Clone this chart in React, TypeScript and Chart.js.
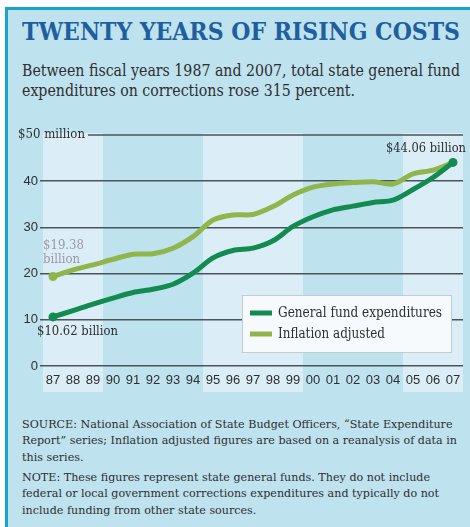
import React, { useEffect, useRef } from 'react';
import { Chart, registerables } from 'chart.js';

Chart.register(...registerables);

// ---------- data ----------
const years = ['87', '88', '89', '90', '91', '92', '93', '94', '95', '96', '97', '98', '99', '00', '01', '02', '03', '04', '05', '06', '07'];
const generalFund = [10.62, 12.0, 13.4, 14.7, 15.9, 16.6, 17.7, 20.1, 23.4, 25.0, 25.5, 27.1, 30.2, 32.3, 33.8, 34.6, 35.4, 35.9, 38.2, 40.8, 44.06];
const inflationAdjusted = [19.38, 20.8, 21.9, 23.1, 24.2, 24.3, 25.5, 28.0, 31.6, 32.7, 32.8, 34.5, 37.0, 38.7, 39.4, 39.7, 39.9, 39.4, 41.6, 42.4, 44.06];
const seriesLabels = ['General fund expenditures', 'Inflation adjusted'];
const yTickValues = [0, 10, 20, 30, 40, 50];
const topTickLabel = '$50 million';
const lightBandRanges: [number, number][] = [[0, 2], [8, 12], [18, 20]];
const startGeneralLabel = '$10.62 billion';
const startInflationLabel = ['$19.38', 'billion'];
const endLabel = '$44.06 billion';

const titleText = 'TWENTY YEARS OF RISING COSTS';
const subtitleLines = [
  'Between fiscal years 1987 and 2007, total state general fund',
  'expenditures on corrections rose 315 percent.',
];
const footLines = [
  'SOURCE: National Association of State Budget Officers, \u201cState Expenditure',
  'Report\u201d series; Inflation adjusted figures are based on a reanalysis of data in',
  'this series.',
  'NOTE: These figures represent state general funds. They do not include',
  'federal or local government corrections expenditures and typically do not',
  'include funding from other state sources.',
];

// ---------- styles ----------
const DARK_GREEN = '#128b50';
const LIGHT_GREEN = '#8fb54b';
const FRAME_BG = '#bfe2ef';
const BAND_BG = '#dbeef7';
const BORDER = '#19a3cf';
const TITLE_COLOR = '#1d5f9f';
const TEXT = '#2e2e2e';
const GRID = '#4a545b';
const SERIF = "'DejaVu Serif'";
const SANS = "'Liberation Sans'";

let mctx: CanvasRenderingContext2D | null = null;
function textWidth(text: string, font: string) {
  if (!mctx) mctx = document.createElement('canvas').getContext('2d');
  mctx!.font = font;
  return mctx!.measureText(text).width;
}

function FitBlock({ lines, font, color, left, centers, width }: { lines: string[]; font: string; color: string; left: number; centers: number[]; width: number }) {
  const maxW = Math.max(...lines.map((l) => textWidth(l, font)));
  const sx = width / maxW;
  return (
    <>
      {lines.map((l, i) => (
        <div
          key={i}
          style={{
            position: 'absolute',
            left,
            top: centers[i],
            font,
            color,
            lineHeight: 1,
            whiteSpace: 'nowrap',
            transform: `translateY(-50%) scaleX(${sx})`,
            transformOrigin: '0 50%',
          }}
        >
          {l}
        </div>
      ))}
    </>
  );
}

function drawFit(ctx: CanvasRenderingContext2D, text: string, x: number, y: number, width: number, align: CanvasTextAlign, color: string, font: string) {
  ctx.save();
  ctx.font = font;
  const w = ctx.measureText(text).width;
  const sx = width / w;
  ctx.fillStyle = color;
  ctx.textBaseline = 'middle';
  ctx.textAlign = align;
  ctx.translate(x, y);
  ctx.scale(sx, 1);
  ctx.fillText(text, 0, 0);
  ctx.restore();
}

const backgroundPlugin = {
  id: 'bgBands',
  beforeDraw(chart: any) {
    const { ctx, chartArea, scales } = chart;
    const x = scales.x;
    const y = scales.y;
    const half = (x.getPixelForValue(1) - x.getPixelForValue(0)) / 2;
    ctx.save();
    ctx.fillStyle = BAND_BG;
    const top = chartArea.top - 2;
    const bottom = chartArea.bottom + 26;
    for (const [a, b] of lightBandRanges) {
      const l = x.getPixelForValue(a) - half;
      const r = x.getPixelForValue(b) + half;
      ctx.fillRect(l, top, r - l, bottom - top);
    }
    // top gridline (shortened by the long label)
    const yTop = y.getPixelForValue(yTickValues[yTickValues.length - 1]);
    ctx.strokeStyle = GRID;
    ctx.lineWidth = 1.5;
    ctx.beginPath();
    ctx.moveTo(88, yTop);
    ctx.lineTo(chartArea.right, yTop);
    ctx.stroke();
    ctx.restore();
    drawFit(ctx, topTickLabel, 18, yTop, 67, 'left', TEXT, `13px ${SERIF}`);
  },
};

const labelsPlugin = {
  id: 'labelsLegend',
  afterDatasetsDraw(chart: any) {
    const { ctx, chartArea, scales } = chart;
    const x = scales.x;
    const y = scales.y;
    const last = years.length - 1;
    const x0 = x.getPixelForValue(0);
    const xl = x.getPixelForValue(last);
    const gy = y.getPixelForValue(generalFund[0]);
    const iy = y.getPixelForValue(inflationAdjusted[0]);
    const ey = y.getPixelForValue(generalFund[last]);
    drawFit(ctx, startGeneralLabel, x0 - 16, gy + 15, 81, 'left', TEXT, `13px ${SERIF}`);
    drawFit(ctx, startInflationLabel[0], x0 - 10, iy - 31, 41, 'left', '#9d98a6', `13px ${SERIF}`);
    drawFit(ctx, startInflationLabel[1], x0 - 10, iy - 17, 37, 'left', '#9d98a6', `13px ${SERIF}`);
    drawFit(ctx, endLabel, xl + 13, ey - 14, 80, 'right', TEXT, `13px ${SERIF}`);

    // legend box
    const right = chartArea.right - 11;
    const left = right - 210;
    const bottom = chartArea.bottom - 13;
    const top = bottom - 58;
    ctx.save();
    ctx.fillStyle = '#f6fafc';
    ctx.fillRect(left, top, right - left, bottom - top);
    ctx.strokeStyle = '#c3ccd1';
    ctx.lineWidth = 1;
    ctx.strokeRect(left + 0.5, top + 0.5, right - left - 1, bottom - top - 1);
    const colors = [DARK_GREEN, LIGHT_GREEN];
    const rows = [top + 18, top + 39];
    const widths = [164, 107];
    seriesLabels.forEach((lab, i) => {
      ctx.fillStyle = colors[i];
      ctx.fillRect(left + 8, rows[i] - 2.5, 22, 5);
      drawFit(ctx, lab, left + 36, rows[i], widths[i], 'left', TEXT, `14px ${SERIF}`);
    });
    ctx.restore();
  },
};

function ChartCanvas() {
  const ref = useRef<HTMLCanvasElement>(null);
  useEffect(() => {
    const last = years.length - 1;
    const chart = new Chart(ref.current!, {
      type: 'line',
      data: {
        labels: years,
        datasets: [
          {
            label: seriesLabels[0],
            data: generalFund,
            borderColor: DARK_GREEN,
            backgroundColor: DARK_GREEN,
            borderWidth: 5,
            tension: 0.3,
            pointRadius: (c: any) => (c.dataIndex === 0 || c.dataIndex === last ? 4.5 : 0),
            pointBackgroundColor: DARK_GREEN,
            pointBorderWidth: 0,
            borderCapStyle: 'round',
            borderJoinStyle: 'round',
          },
          {
            label: seriesLabels[1],
            data: inflationAdjusted,
            borderColor: LIGHT_GREEN,
            backgroundColor: LIGHT_GREEN,
            borderWidth: 5,
            tension: 0.3,
            pointRadius: (c: any) => (c.dataIndex === 0 ? 4.5 : 0),
            pointBackgroundColor: LIGHT_GREEN,
            pointBorderWidth: 0,
            borderCapStyle: 'round',
            borderJoinStyle: 'round',
          },
        ],
      },
      options: {
        animation: false,
        responsive: false,
        devicePixelRatio: 1,
        events: [],
        layout: { padding: { top: 15, right: 7, left: 0, bottom: 0 } },
        plugins: { legend: { display: false }, tooltip: { enabled: false } },
        scales: {
          x: {
            type: 'category',
            offset: true,
            grid: { display: false, drawTicks: false },
            border: { display: false },
            ticks: { color: TEXT, font: { family: 'Liberation Sans', size: 13 }, padding: 7, maxRotation: 0, autoSkip: false },
            afterFit: (s: any) => { s.height = 34; },
          },
          y: {
            min: 0,
            max: 50,
            afterBuildTicks: (s: any) => { s.ticks = yTickValues.map((v) => ({ value: v })); },
            grid: {
              color: (c: any) => (c.tick && c.tick.value === 50 ? 'rgba(0,0,0,0)' : GRID),
              lineWidth: 1.5,
              tickLength: 3,
              drawTicks: true,
            },
            border: { display: false },
            ticks: {
              color: (c: any) => (c.tick && c.tick.value === 50 ? 'rgba(0,0,0,0)' : TEXT),
              font: { family: 'Liberation Sans', size: 13 },
              padding: 2,
              callback: (v: any) => (v === 50 ? '' : String(v)),
            },
            afterFit: (s: any) => { s.width = 43; },
          },
        },
      } as any,
      plugins: [backgroundPlugin, labelsPlugin],
    });
    return () => chart.destroy();
  }, []);
  return <canvas ref={ref} width={470} height={280} style={{ position: 'absolute', left: 0, top: 120, width: 470, height: 280 }} />;
}

export default function App() {
  return (
    <div style={{ position: 'absolute', left: 0, top: 0, width: 470, height: 527, background: '#ffffff', overflow: 'hidden' }}>
      <div
        style={{
          position: 'absolute',
          left: 5,
          top: 7,
          width: 465,
          height: 520,
          boxSizing: 'border-box',
          background: FRAME_BG,
          borderLeft: `3px solid ${BORDER}`,
          borderTop: `3px solid ${BORDER}`,
        }}
      />
      <FitBlock lines={[titleText]} font={`bold 24px ${SERIF}`} color={TITLE_COLOR} left={22} centers={[32]} width={438} />
      <FitBlock lines={subtitleLines} font={`16px ${SERIF}`} color={TEXT} left={22} centers={[71, 91]} width={438} />
      <ChartCanvas />
      <FitBlock lines={footLines} font={`11px ${SERIF}`} color={TEXT} left={22} centers={[424, 440, 457, 477, 493, 510]} width={435} />
    </div>
  );
}
